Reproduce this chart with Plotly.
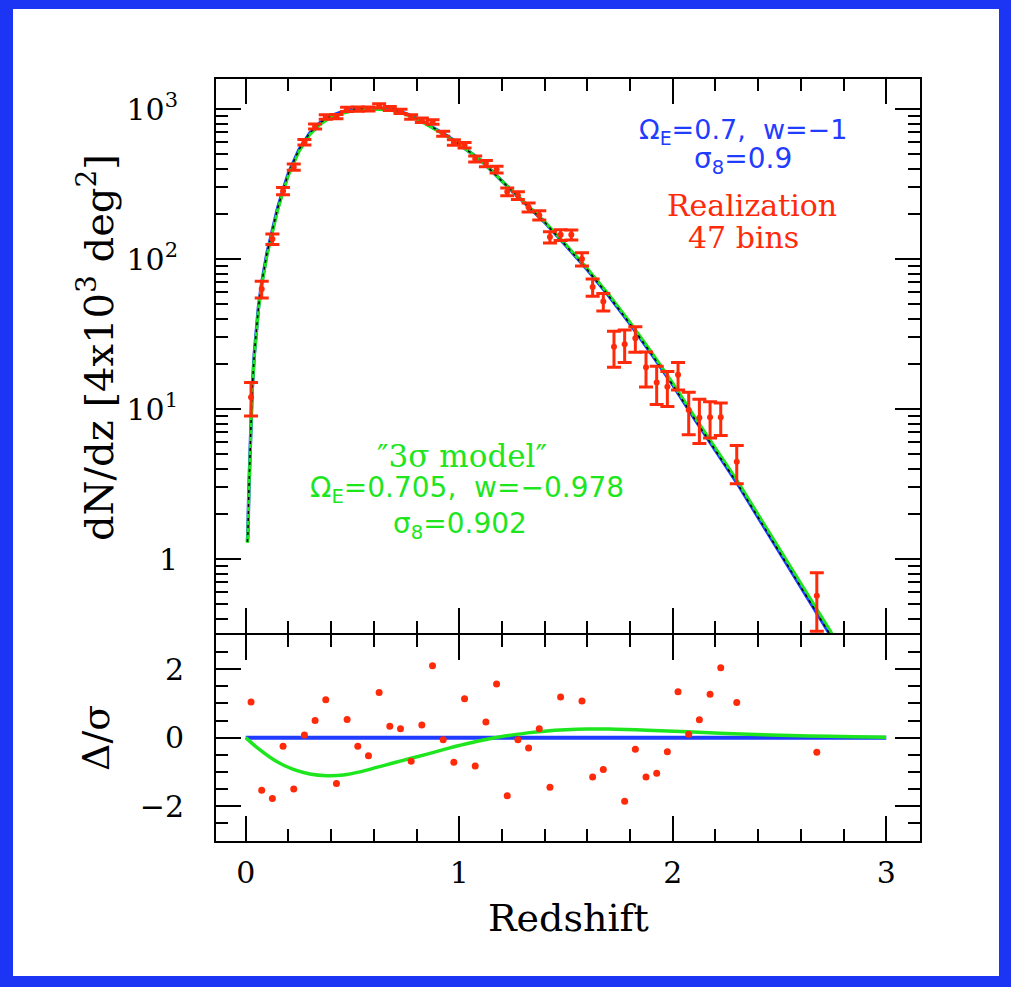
import plotly.graph_objects as go

# ---------------- data ----------------
# binned realization (47 bins)
z_bins = [0.025, 0.075, 0.125, 0.175, 0.225, 0.275, 0.325, 0.375, 0.425, 0.475,
          0.525, 0.575, 0.625, 0.675, 0.725, 0.775, 0.825, 0.875, 0.925, 0.975,
          1.025, 1.075, 1.125, 1.175, 1.225, 1.275, 1.325, 1.375, 1.425, 1.475,
          1.525, 1.575, 1.625, 1.675, 1.725, 1.775, 1.825, 1.875, 1.925, 1.975,
          2.025, 2.075, 2.125, 2.175, 2.225, 2.300, 2.675]
dndz = [12.0, 63, 136, 284, 410, 600, 765, 885, 890, 995,
        998, 1000, 1050, 1008, 965, 884, 843, 820, 685, 599,
        574, 465, 433, 395, 281, 265, 221, 196, 140, 145,
        145, 100, 65, 52, 26, 27, 29.6, 19, 15, 14.1,
        16.9, 9.85, 8.75, 8.8, 8.8, 4.45, 0.57]
sigma = [3.0, 8, 11, 16, 20, 25, 28, 30, 30, 32,
         32, 32, 33, 32, 31, 30, 29, 28, 26, 25,
         24, 22, 21, 20, 17, 16, 15, 14, 12, 12,
         11, 10, 8.5, 7, 7, 6.6, 5.7, 5, 4.3, 3.7,
         3.5, 3.1, 2.85, 2.4, 2.15, 1.27, 0.24]
resid = [1.04, -1.54, -1.78, -0.25, -1.5, 0.08, 0.5, 1.11, -1.34, 0.53,
         -0.25, -0.53, 1.32, 0.33, 0.26, -0.69, 0.37, 2.1, -0.06, -0.72,
         1.14, -0.83, 0.46, 1.57, -1.7, -0.06, -0.30, 0.26, -1.45, 1.19,
         3.3, 1.07, -1.15, -0.93, -3.4, -1.86, -0.34, -1.15, -1.04, -0.41,
         1.34, 0.10, 0.52, 1.27, 2.04, 1.03, -0.43]

# model curves (fiducial = blue, "3 sigma model" = green)
z_model = [0.008, 0.01, 0.015, 0.02, 0.025, 0.03, 0.04, 0.05, 0.06, 0.075,
           0.1, 0.125, 0.15, 0.175, 0.2, 0.25, 0.3, 0.35, 0.4, 0.45,
           0.5, 0.55, 0.6, 0.65, 0.7, 0.75, 0.8, 0.85, 0.9, 0.95,
           1.0, 1.1, 1.2, 1.3, 1.4, 1.5, 1.6, 1.7, 1.8, 1.9,
           2.0, 2.1, 2.2, 2.3, 2.4, 2.5, 2.6, 2.7, 2.8]
model_blue = [1.3, 1.45, 2.9, 5.3, 8.9, 13, 23, 35, 48, 69,
              110, 155, 219, 288, 372, 537, 692, 813, 902, 955,
              993, 1009, 1014, 1007, 984, 933, 871, 794, 724, 653,
              582, 457, 331, 243, 176, 123, 85, 57, 37, 23.4,
              14.5, 8.7, 5.3, 3.24, 1.9, 1.12, 0.66, 0.385, 0.224]
model_green = [1.28, 1.43, 2.84, 5.15, 8.6, 12.6, 22.2, 33.8, 46.4, 66.6,
               106, 150, 212, 279, 361, 522, 673, 792, 880, 933,
               971, 989, 995, 989, 968, 919, 859, 784, 717, 648,
               579, 457, 332, 244.5, 177.6, 124.6, 86.6, 58.3, 38, 24,
               14.95, 9.0, 5.5, 3.38, 1.99, 1.18, 0.70, 0.41, 0.24]

# residual-panel curves
z_zero = [0.0, 3.0]
zero_line = [0.0, 0.0]
z_gres = [0.0, 0.067, 0.145, 0.223, 0.3, 0.38, 0.457, 0.535, 0.613, 0.69,
          0.77, 0.85, 0.926, 1.0, 1.08, 1.16, 1.24, 1.32, 1.4, 1.5,
          1.6, 1.7, 1.88, 2.07, 2.25, 2.46, 2.64, 2.85, 3.0]
green_resid = [0.0, -0.36, -0.70, -0.93, -1.06, -1.11, -1.09, -1.00, -0.87, -0.74,
               -0.61, -0.48, -0.35, -0.23, -0.11, -0.01, 0.07, 0.14, 0.19, 0.23,
               0.25, 0.25, 0.22, 0.17, 0.12, 0.08, 0.05, 0.03, 0.01]

# tick labels
y_tickvals = [1, 10, 100, 1000]
y_ticktext = ["1", "10<sup>1</sup>", "10<sup>2</sup>", "10<sup>3</sup>"]
y_minor = [0.4, 0.5, 0.6, 0.7, 0.8, 0.9, 2, 3, 4, 5, 6, 7, 8, 9,
           20, 30, 40, 50, 60, 70, 80, 90, 200, 300, 400, 500, 600, 700, 800, 900]
r_tickvals = [-2, 0, 2]
r_ticktext = ["\u22122", "0", "2"]

# ---------------- style ----------------
RED = "#ff2a0a"
BLUE = "#1f3cff"
GREEN = "#1ee61e"
FRAME = "#1c35f5"
SERIF = "DejaVu Serif"
SANS = "DejaVu Sans"

W, H = 1011, 987
ML, MR, MT, MB = 216, 91, 79, 146
PW, PH = W - ML - MR, H - MT - MB
top_bottom = (841 - 633) / PH     # top panel ends 2px above the lower panel so
low_top = (841 - 635) / PH        # the two shared border lines coincide


def px(x):
    return (x - ML) / PW


def py(y):
    return (H - MB - y) / PH


fig = go.Figure()

# top panel
fig.add_trace(go.Scatter(x=z_model, y=model_blue, mode="lines",
                         line=dict(color=BLUE, width=3.5), xaxis="x", yaxis="y",
                         showlegend=False))
fig.add_trace(go.Scatter(x=z_model, y=model_green, mode="lines",
                         line=dict(color=GREEN, width=3), xaxis="x", yaxis="y",
                         showlegend=False))
fig.add_trace(go.Scatter(x=z_model, y=model_blue, mode="lines",
                         line=dict(color="black", width=1.5, dash="3px,4px"),
                         xaxis="x", yaxis="y", showlegend=False))
fig.add_trace(go.Scatter(x=z_bins, y=dndz, mode="markers",
                         marker=dict(color=RED, size=6),
                         error_y=dict(type="data", array=sigma, color=RED,
                                      thickness=3, width=7),
                         xaxis="x", yaxis="y", showlegend=False))

# residual panel
fig.add_trace(go.Scatter(x=z_zero, y=zero_line, mode="lines",
                         line=dict(color=BLUE, width=4), xaxis="x2", yaxis="y2",
                         showlegend=False))
fig.add_trace(go.Scatter(x=z_gres, y=green_resid, mode="lines", line_shape="spline",
                         line=dict(color=GREEN, width=3.5), xaxis="x2", yaxis="y2",
                         showlegend=False))
fig.add_trace(go.Scatter(x=z_bins, y=resid, mode="markers",
                         marker=dict(color=RED, size=7), cliponaxis=True,
                         xaxis="x2", yaxis="y2", showlegend=False))

axis_common = dict(showline=True, linecolor="black", linewidth=2, mirror="allticks",
                   ticks="inside", ticklen=25, tickwidth=2, tickcolor="black",
                   showgrid=False, zeroline=False,
                   tickfont=dict(family=SERIF, size=30, color="black"))
minor_common = dict(ticks="inside", ticklen=12, tickwidth=2, tickcolor="black",
                    showgrid=False)
xr = [(ML - 245.7) / 213.5, (ML + PW - 245.7) / 213.5]

fig.update_layout(
    width=W, height=H,
    margin=dict(l=ML, r=MR, t=MT, b=MB),
    paper_bgcolor="white", plot_bgcolor="white",
    xaxis=dict(domain=[0, 1], anchor="y", range=xr, tick0=0, dtick=1,
               showticklabels=False,
               minor=dict(tick0=0, dtick=0.2, **minor_common),
               **axis_common),
    xaxis2=dict(domain=[0, 1], anchor="y2", range=xr, matches="x", tick0=0, dtick=1,
                showticklabels=True, ticklabelstandoff=4,
                minor=dict(tick0=0, dtick=0.2, **minor_common),
                **axis_common),
    yaxis=dict(domain=[top_bottom, 1], anchor="x", type="log", range=[-0.493, 3.2],
               tickvals=y_tickvals, ticktext=y_ticktext, ticklabelstandoff=30,
               minor=dict(tickvals=y_minor, **minor_common),
               **axis_common),
    yaxis2=dict(domain=[0, low_top], anchor="x2", range=[-3.02, 3.0],
                tickvals=r_tickvals, ticktext=r_ticktext, ticklabelstandoff=24,
                minor=dict(tick0=0, dtick=0.5, **minor_common),
                **axis_common),
)


def label(text, x, y, family, size, color, angle=0):
    return dict(text=text, x=px(x), y=py(y), xref="paper", yref="paper",
                showarrow=False, textangle=angle, xanchor="center", yanchor="middle",
                font=dict(family=family, size=size, color=color))


ann = [
    # axis titles
    label("Redshift", 568, 918, SERIF, 38, "black"),
    label("dN/dz [4x10<sup>3</sup> deg<sup>2</sup>]", 96, 348, SERIF, 40, "black", -90),
    label("\u0394/\u03c3", 96, 738, SERIF, 38, "black", -90),
    # blue labels
    label("\u03a9<sub>E</sub>=0.7,  w=\u22121", 743, 132, SANS, 27, BLUE),
    label("\u03c3<sub>8</sub>=0.9", 743, 160, SANS, 28, BLUE),
    # red labels
    label("Realization", 752, 205, SERIF, 30, RED),
    label("47 bins", 743, 238, SERIF, 30, RED),
    # green labels
    label("\u20333\u03c3 model\u2033", 462, 456, SERIF, 31, GREEN),
    label("\u03a9<sub>E</sub>=0.705,  w=\u22120.978", 467, 489, SANS, 28, GREEN),
    label("\u03c3<sub>8</sub>=0.902", 460, 525, SANS, 28, GREEN),
]
fig.update_layout(annotations=ann)

# blue outer frame
shapes = []
for (x0, x1, y0, y1) in [(0, 13, 0, 987), (999, 1011, 0, 987), (0, 1011, 0, 9), (0, 1011, 976, 987)]:
    shapes.append(dict(type="rect", xref="paper", yref="paper",
                       x0=px(x0), x1=px(x1), y0=py(y1), y1=py(y0),
                       fillcolor=FRAME, line=dict(width=0), layer="above"))
fig.update_layout(shapes=shapes)

fig.write_html("out.html")
